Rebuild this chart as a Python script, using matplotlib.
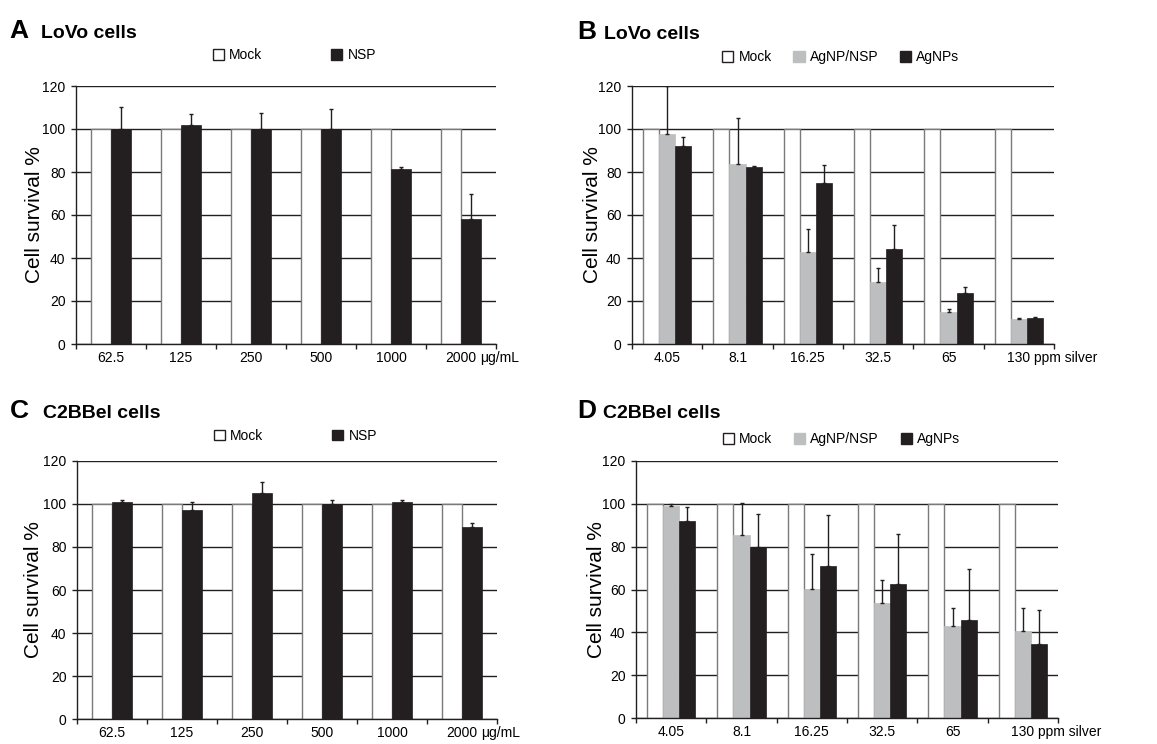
import matplotlib
matplotlib.use("Agg")
import matplotlib.pyplot as plt
import numpy as np

plt.rcParams['font.family'] = ['Liberation Sans', 'DejaVu Sans']

# ---------------- data ----------------
nsp_conc = ["62.5", "125", "250", "500", "1000", "2000"]
nsp_unit = "\u03bcg/mL"
ag_conc = ["4.05", "8.1", "16.25", "32.5", "65", "130"]
ag_unit = "ppm silver"

# Panel A: LoVo cells, NSP
A_mock = [100, 100, 100, 100, 100, 100]
A_nsp = [100, 101.7, 100, 100, 81.2, 58.1]
A_nsp_err = [10.4, 5.3, 7.3, 9.1, 1.3, 11.7]

# Panel B: LoVo cells, AgNP/NSP and AgNPs
B_mock = [100, 100, 100, 100, 100, 100]
B_agnsp = [97.5, 83.7, 42.8, 28.8, 14.9, 11.6]
B_agnsp_err = [22.5, 21.3, 10.5, 6.4, 1.5, 0.3]
B_agnp = [92.1, 82.3, 74.9, 44.2, 23.6, 11.9]
B_agnp_err = [4.3, 0.3, 8.2, 11.0, 3.1, 0.8]

# Panel C: C2BBel cells, NSP
C_mock = [100, 100, 100, 100, 100, 100]
C_nsp = [100.7, 97.1, 105, 99.7, 100.7, 89.2]
C_nsp_err = [1.2, 3.9, 5.0, 2.0, 1.2, 1.7]

# Panel D: C2BBel cells, AgNP/NSP and AgNPs
D_mock = [100, 100, 100, 100, 100, 100]
D_agnsp = [98.8, 85.4, 60.2, 53.7, 43.0, 40.7]
D_agnsp_err = [1.2, 15.1, 16.5, 10.7, 8.2, 10.5]
D_agnp = [91.9, 79.8, 71.0, 62.6, 45.8, 34.6]
D_agnp_err = [6.4, 15.5, 23.7, 23.3, 23.6, 16.0]

panel_letters = ["A", "B", "C", "D"]
panel_titles = ["LoVo cells", "LoVo cells", "C2BBel cells", "C2BBel cells"]
ylabel = "Cell survival %"
yticks = [0, 20, 40, 60, 80, 100, 120]

# ---------------- style ----------------
BLACK = "#231f20"
GREY = "#bcbec0"
EDGE = "#7a7a7a"
W, H = 1157, 744
FS = 10
fig = plt.figure(figsize=(W / 100, H / 100), dpi=100)


def px_axes(l, t, r, b):
    return fig.add_axes([l / W, 1 - b / H, (r - l) / W, (b - t) / H])


def style_axes(ax, labels, unit, unit_off, ylab_x):
    ax.set_xlim(-0.5, len(labels) - 0.5)
    ax.set_ylim(0, 120)
    ax.set_yticks(yticks)
    ax.tick_params(axis='y', direction='out', length=3.5, width=1, pad=4,
                   labelsize=FS, color=BLACK)
    ax.set_xticks(np.arange(len(labels) + 1) - 0.5)
    ax.set_xticklabels([])
    ax.set_xticks(np.arange(len(labels)), minor=True)
    ax.set_xticklabels(labels, minor=True)
    ax.tick_params(axis='x', which='major', direction='out', length=3.5, width=1, color=BLACK)
    ax.tick_params(axis='x', which='minor', length=0, pad=5, labelsize=FS)
    ax.grid(axis='y', color=BLACK, linewidth=1)
    ax.set_axisbelow(True)
    for s in ['top', 'right']:
        ax.spines[s].set_visible(False)
    for s in ['left', 'bottom']:
        ax.spines[s].set_color(BLACK)
        ax.spines[s].set_linewidth(1)
    ax.set_ylabel(ylabel, fontsize=15)
    ax.yaxis.set_label_coords(ylab_x, 0.5)
    # unit text following the last category label
    ax.annotate(unit, xy=(len(labels) - 1, 0), xycoords=('data', 'axes fraction'),
                xytext=(unit_off, -5), textcoords='offset points',
                ha='left', va='top', fontsize=FS, annotation_clip=False)


ekw = dict(ecolor=BLACK, elinewidth=1, capthick=1)
leg_kw = dict(loc='center', frameon=False, fontsize=FS, handlelength=0.8,
              handleheight=0.8, handletextpad=0.38, borderaxespad=0, borderpad=0)


def two_bar(ax, mock, nsp, nsp_err, lx, ly, cs):
    x = np.arange(len(mock))
    w = 0.28
    ax.bar(x - w / 2, mock, w, color='white', edgecolor=EDGE, linewidth=1, zorder=2)
    ax.bar(x + w / 2, nsp, w, color=BLACK, edgecolor=BLACK, linewidth=0.5, zorder=2)
    ax.errorbar(x + w / 2, nsp, yerr=[np.zeros(len(nsp)), nsp_err], fmt='none',
                capsize=1.6, zorder=3, **ekw)
    h1 = plt.Rectangle((0, 0), 1, 1, facecolor='white', edgecolor=BLACK, linewidth=1)
    h2 = plt.Rectangle((0, 0), 1, 1, facecolor=BLACK, edgecolor=BLACK)
    ax.legend([h1, h2], ['Mock', 'NSP'], ncol=2, bbox_to_anchor=(lx, ly),
              columnspacing=cs, **leg_kw)


def three_bar(ax, mock, g, g_err, k, k_err, lx, ly, cs):
    x = np.arange(len(mock))
    w = 0.228
    ax.bar(x - w, mock, w, color='white', edgecolor=EDGE, linewidth=1, zorder=2)
    ax.bar(x, g, w, color=GREY, edgecolor=GREY, linewidth=0.5, zorder=2)
    ax.bar(x + w, k, w, color=BLACK, edgecolor=BLACK, linewidth=0.5, zorder=2)
    ax.errorbar(x, g, yerr=[np.zeros(len(g)), g_err], fmt='none', capsize=1.6,
                zorder=3, **ekw)
    ax.errorbar(x + w, k, yerr=[np.zeros(len(k)), k_err], fmt='none', capsize=1.6,
                zorder=3, **ekw)
    h1 = plt.Rectangle((0, 0), 1, 1, facecolor='white', edgecolor=BLACK, linewidth=1)
    h2 = plt.Rectangle((0, 0), 1, 1, facecolor=GREY, edgecolor=GREY)
    h3 = plt.Rectangle((0, 0), 1, 1, facecolor=BLACK, edgecolor=BLACK)
    ax.legend([h1, h2, h3], ['Mock', 'AgNP/NSP', 'AgNPs'], ncol=3,
              bbox_to_anchor=(lx, ly), columnspacing=cs, **leg_kw)


axA = px_axes(76, 86, 496, 344)
axB = px_axes(632, 86, 1054, 344)
axC = px_axes(77, 460.7, 497, 719.3)
axD = px_axes(636, 460.7, 1058, 718.3)

style_axes(axA, nsp_conc, nsp_unit, 13.9, -0.076)
style_axes(axB, ag_conc, ag_unit, 11.1, -0.07)
style_axes(axC, nsp_conc, nsp_unit, 13.9, -0.08)
style_axes(axD, ag_conc, ag_unit, 11.1, -0.07)

two_bar(axA, A_mock, A_nsp, A_nsp_err, 0.52, 1.12, 4.97)
three_bar(axB, B_mock, B_agnsp, B_agnsp_err, B_agnp, B_agnp_err, 0.495, 1.112, 1.55)
two_bar(axC, C_mock, C_nsp, C_nsp_err, 0.52, 1.096, 4.97)
three_bar(axD, D_mock, D_agnsp, D_agnsp_err, D_agnp, D_agnp_err, 0.487, 1.084, 1.55)

# panel titles
title_pos = [(9, 41, 37.5), (577, 604, 39), (10, 43, 418), (577, 603, 418)]
for (xl, xt, yb), letter, title in zip(title_pos, panel_letters, panel_titles):
    fig.text(xl / W, 1 - yb / H, letter, fontsize=19, fontweight='bold',
             va='baseline', ha='left')
    fig.text(xt / W, 1 - yb / H, title, fontsize=14, fontweight='bold',
             va='baseline', ha='left')

fig.savefig("out.png", dpi=100)
